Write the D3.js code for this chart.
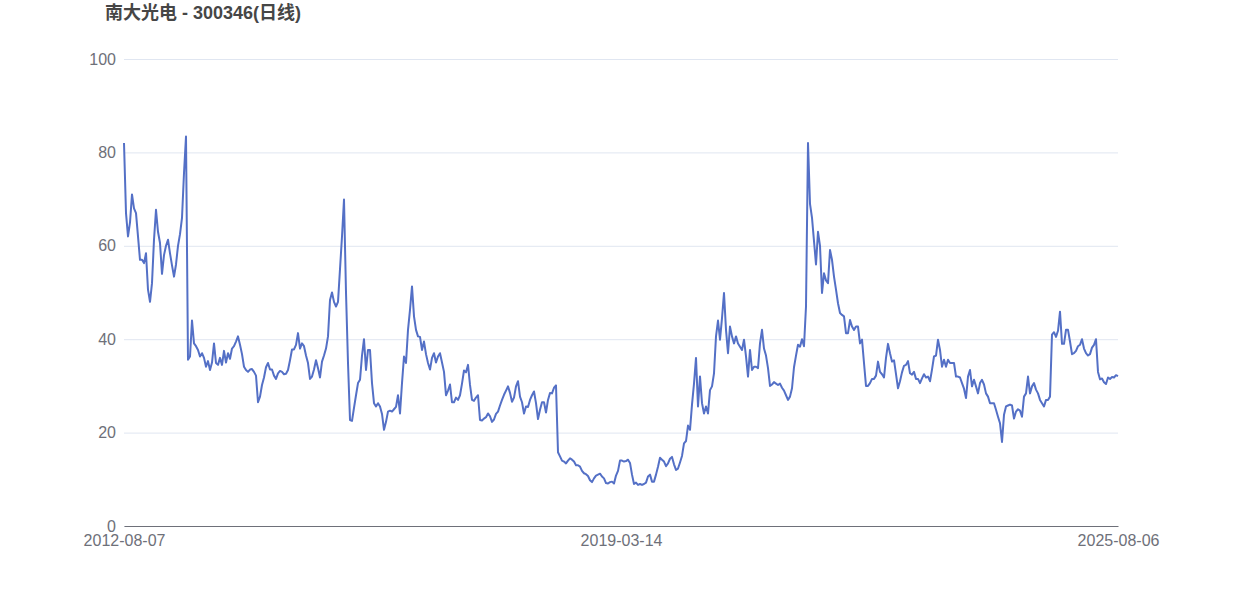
<!DOCTYPE html>
<html>
<head>
<meta charset="utf-8">
<script src="https://cdn.jsdelivr.net/npm/d3@7"></script>
<style>
  html, body { margin: 0; padding: 0; background: #ffffff; }
  svg { display: block; }
</style>
</head>
<body>
<svg id="chart" width="1242" height="596"></svg>
<script>
// ---- data ----
const titleText = "南大光电 - 300346(日线)";
const xTickLabels = ["2012-08-07", "2019-03-14", "2025-08-06"];
const yTickValues = [0, 20, 40, 60, 80, 100];
// closing price, evenly sampled along the trading-day axis
const closePrices = [
  82, 67, 62, 65, 71, 68, 67, 62, 57, 57,
  56.3, 58.4, 50.6, 48, 52, 61.3, 67.7, 63, 60.6, 54,
  58, 60, 61.3, 58.4, 55.8, 53.4, 56, 60, 62.5, 66,
  75.6, 83.4, 35.6, 36.3, 44, 39.1, 38.5, 37.7, 36.3, 37,
  36, 34.1, 35.3, 33.4, 35, 39.1, 34.9, 34.5, 36, 34.5,
  37.5, 35, 37, 35.8, 38, 38.5, 39.5, 40.6, 38.8, 36.8,
  34.1, 33.4, 33, 33.5, 33.6, 33, 32.2, 26.5, 27.7, 30.2,
  31.8, 34, 34.9, 33.5, 33.5, 32.2, 31.5, 32.7, 33.2, 33,
  32.5, 32.6, 33.4, 35.5, 37.8, 37.8, 38.8, 41.3, 38, 39.1,
  38.5, 36.5, 34.9, 31.5, 32, 33.5, 35.5, 33.8, 31.8, 35.2,
  36.5, 38, 40.6, 48.4, 50, 48, 47, 48, 55, 62,
  69.9, 50, 34.9, 22.7, 22.5, 25.3, 28, 30.6, 31.3, 36.5,
  40, 33.4, 37.7, 37.7, 30.6, 26.3, 25.6, 26.3, 25.6, 24,
  20.6, 22.3, 24.5, 24.7, 24.5, 25, 25.5, 28, 24.1, 30.6,
  36.3, 34.9, 42, 46.3, 51.3, 44.9, 42, 40.6, 40.5, 37.7,
  39.5, 36.8, 34.9, 33.5, 36, 37, 35, 36.3, 37, 35,
  33, 28, 29, 30.3, 26.5, 26.5, 27.5, 27, 28, 30.5,
  33.3, 32.9, 34.5, 30.2, 27, 26.8, 27.5, 28, 22.7, 22.6,
  23, 23.3, 24.1, 23.5, 22.3, 22.8, 24, 24.5, 25.8, 27,
  28.1, 29, 29.9, 28.5, 26.6, 27.5, 29.9, 31, 27.7, 26.5,
  24.1, 25.6, 25.5, 27, 28, 28.8, 26.3, 22.9, 24.9, 26.5,
  26.5, 24.3, 27, 28.5, 28.4, 29.6, 30.1, 15.8, 14.9, 14,
  13.8, 13.4, 14, 14.5, 14.2, 13.8, 13, 13, 12.7, 11.8,
  11.3, 11.1, 10.7, 9.8, 9.4, 10.2, 10.8, 11, 11.2, 10.6,
  10.2, 9.2, 9.1, 9.4, 9.5, 9.1, 10.8, 11.8, 14, 14,
  13.8, 13.9, 14.2, 13.5, 11, 9, 9.3, 8.8, 9, 8.8,
  9, 9.3, 10.6, 11, 9.5, 9.5, 11, 12.7, 14.6, 14.2,
  13.8, 12.8, 13.4, 14.4, 14.8, 13.2, 12, 12.3, 13.6, 15,
  17.7, 18.2, 21.5, 20.6, 26, 30.5, 36, 25.6, 32, 26.3,
  24.1, 25.6, 24.1, 29.1, 29.9, 32.7, 40.6, 44, 39.9, 44.5,
  49.9, 42, 37, 42.7, 40.6, 39.1, 40.6, 39.1, 38.4, 37.7,
  39.9, 36.3, 32, 37.7, 33.4, 34.1, 34.1, 33.8, 39.1, 42,
  38, 36.5, 33.8, 30, 30.3, 30.8, 30.5, 30.2, 30.5, 29.6,
  29, 28, 27, 27.7, 29.5, 34, 36.5, 38.8, 38.4, 40,
  38.5, 47, 82, 69, 66, 61, 56, 63, 60, 49.9,
  54.1, 52.6, 52, 59.1, 57, 53.4, 50.6, 47.7, 45.6, 45.2,
  44.9, 41.3, 41.3, 44.1, 42.7, 42, 42.7, 42.7, 39.1, 39.9,
  34.9, 30, 30, 30.6, 31.5, 31.5, 32.2, 35.2, 33, 32.5,
  31.8, 36, 39, 37, 35.2, 35.5, 32.5, 29.5, 31, 32.9,
  34.3, 34.5, 35.3, 32.7, 32.4, 33, 31.5, 31.5, 30.6, 31.6,
  32.5, 31.8, 32, 31, 33.5, 36.3, 36.5, 39.9, 37.7, 34.1,
  35.6, 34.1, 35.6, 34.9, 34.9, 34.9, 32, 32, 31.8, 30.6,
  29.4, 27.4, 32, 33.4, 29.9, 31.3, 29.9, 28.4, 30.6, 31.3,
  30.3, 28.4, 27.7, 26.3, 26.3, 26.3, 24.9, 23.4, 22, 18,
  23.8, 25.6, 25.8, 26, 25.8, 23, 24.5, 25, 24.7, 23.4,
  27.7, 28.4, 32, 28.4, 29.9, 30.6, 29.2, 28.4, 27, 26.3,
  25.6, 27, 27, 27.7, 41, 41.5, 40.5, 41.8, 45.9, 39,
  39, 42, 42, 39.5, 36.8, 37, 37.5, 38.5, 38.8, 40,
  38, 37, 36.5, 36.8, 38.2, 38.8, 40, 33, 31.4, 31.6,
  30.8, 30.4, 31.8, 31.5, 31.9, 31.8, 32.3, 32.1
];

// ---- layout ----
const W = 1242, H = 596;
const margin = { left: 124, right: 124, top: 59, bottom: 70 };
const svg = d3.select("#chart");

const N = closePrices.length;
const x = d3.scaleLinear().domain([0, N - 1]).range([margin.left, W - margin.right]);
const y = d3.scaleLinear().domain([0, 100]).range([H - margin.bottom, margin.top]);

const labelFont = "'Liberation Sans', Arial, 'Noto Sans CJK SC', sans-serif";

// title
svg.append("text")
  .attr("x", 105)
  .attr("y", 19)
  .attr("font-family", labelFont)
  .attr("font-size", 18)
  .attr("font-weight", "bold")
  .attr("fill", "#464646")
  .text(titleText);

// y axis + grid
const yAxis = d3.axisLeft(y)
  .tickValues(yTickValues)
  .tickSize(-(W - margin.left - margin.right))
  .tickPadding(8);
const gy = svg.append("g")
  .attr("transform", `translate(${margin.left},0)`)
  .call(yAxis);
gy.select(".domain").remove();
gy.selectAll(".tick line").attr("stroke", "#e0e6f1").attr("stroke-width", 1);
gy.selectAll(".tick text")
  .attr("fill", "#6e7079")
  .attr("font-size", 16)
  .attr("font-family", labelFont);

// x axis
const tickIdx = [0, (N - 1) / 2, N - 1];
const xAxis = d3.axisBottom(x)
  .tickValues(tickIdx)
  .tickFormat((d, i) => xTickLabels[i])
  .tickSize(0)
  .tickPadding(9);
const gx = svg.append("g")
  .attr("transform", `translate(0,${y(0)})`)
  .call(xAxis);
gx.select(".domain").attr("stroke", "#6e7079").attr("stroke-width", 1);
gx.selectAll(".tick text")
  .attr("fill", "#6e7079")
  .attr("font-size", 16)
  .attr("font-family", labelFont);

// line
const line = d3.line()
  .x((d, i) => x(i))
  .y(d => y(d));
svg.append("path")
  .datum(closePrices)
  .attr("fill", "none")
  .attr("stroke", "#5470c6")
  .attr("stroke-width", 2)
  .attr("stroke-linejoin", "round")
  .attr("d", line);
</script>
</body>
</html>
